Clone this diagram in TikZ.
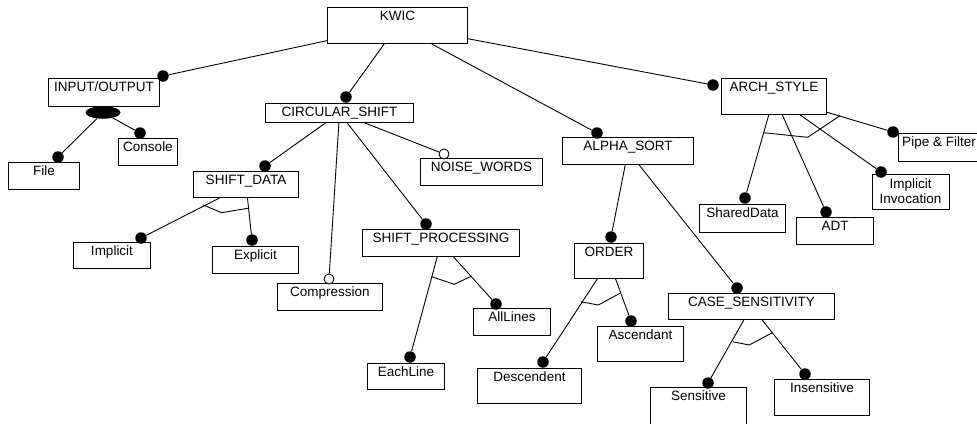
\documentclass[tikz,border=0pt]{standalone}
\usepackage{fontspec}
\setmainfont{Liberation Sans}
\usetikzlibrary{shapes.geometric}
\tikzset{
  fbox/.style={draw, line width=1pt, fill=white, inner sep=0pt, text height=13pt,
    font=\fontsize{13.5}{15}\selectfont},
  conn/.style={line width=0.9pt},
  fdot/.style={circle, fill=black, inner sep=0pt, minimum size=11.5pt},
  odot/.style={circle, draw, fill=white, line width=0.9pt, inner sep=0pt, minimum size=10pt},
  grp/.style={line width=0.9pt},
  oval/.style={ellipse, fill=black, minimum width=35pt, minimum height=12.5pt, inner sep=0pt}
}
\newcommand\fbx[6]{%
  \pgfmathsetmacro\myw{#4-#2}\pgfmathsetmacro\myh{#5-#3}\pgfmathsetmacro\myd{#5-#3-13}%
  \node[fbox, minimum width=\myw pt, minimum height=\myh pt, text depth=\myd pt, anchor=north west] (#1) at (#2,#3) {#6};}
\begin{document}
\begin{tikzpicture}[x=1pt, y=-1pt]
\useasboundingbox (0,0) rectangle (977,423);
\clip (0,0) rectangle (977,423);
\fill[white] (0,0) rectangle (977,423);
% boxes
\fbx{kwic}{327}{7}{467}{43}{KWIC}
\fbx{io}{48}{78}{159}{106}{INPUT/OUTPUT}
\fbx{console}{118}{138}{177}{165}{Console}
\fbx{file}{8}{162}{79}{189}{File}
\fbx{cshift}{265}{103}{413}{122}{CIRCULAR\_SHIFT}
\fbx{noise}{420}{158}{542}{185}{NOISE\_WORDS}
\fbx{sdata}{193}{171}{298}{197}{SHIFT\_DATA}
\fbx{impl}{73}{242}{150}{268}{Implicit}
\fbx{expl}{212}{246}{298}{273}{Explicit}
\fbx{compr}{277}{283}{382}{310}{Compression}
\fbx{sproc}{362}{229}{519}{256}{SHIFT\_PROCESSING}
\fbx{all}{473}{308}{550}{335}{AllLines}
\fbx{each}{367}{363}{444}{389}{EachLine}
\fbx{asort}{562}{137}{693}{164}{ALPHA\_SORT}
\fbx{order}{574}{243}{643}{278}{ORDER}
\fbx{case}{668}{293}{834}{319}{CASE\_SENSITIVITY}
\fbx{asc}{597}{326}{683}{361}{Ascendant}
\fbx{desc}{477}{368}{581}{403}{Descendent}
\fbx{sens}{650}{387}{746}{432}{Sensitive}
\fbx{insens}{774}{379}{869}{415}{Insensitive}
\fbx{arch}{721}{78}{826}{114}{ARCH\_STYLE}
\fbx{pipe}{898}{133}{979}{161}{Pipe \& Filter}
\fbx{shared}{699}{204}{785}{232}{SharedData}
\fbx{adt}{796}{217}{873}{244}{ADT}
\node[draw, line width=1pt, fill=white, inner sep=0pt, minimum width=77pt, minimum height=35pt,
  align=center, font=\fontsize{13.5}{15}\selectfont] (implinv) at (910.5,191.5) {Implicit\\Invocation};
% or-group oval
\node[oval] (ovl) at (103,112.5) {};
% dots
\node[fdot] (d-io) at (163,76) {};
\node[fdot] (d-cshift) at (346,97) {};
\node[fdot] (d-asort) at (597,133) {};
\node[fdot] (d-arch) at (713,85) {};
\node[fdot] (d-console) at (140,133) {};
\node[fdot] (d-file) at (58,157) {};
\node[odot] (d-noise) at (444,154) {};
\node[fdot] (d-sdata) at (265,166) {};
\node[odot] (d-compr) at (329,279) {};
\node[fdot] (d-sproc) at (426,224) {};
\node[fdot] (d-impl) at (141,238) {};
\node[fdot] (d-expl) at (252,240) {};
\node[fdot] (d-all) at (496,304) {};
\node[fdot] (d-each) at (410,357) {};
\node[fdot] (d-order) at (611,237) {};
\node[fdot] (d-case) at (737,288) {};
\node[fdot] (d-asc) at (631,321) {};
\node[fdot] (d-desc) at (543,362) {};
\node[fdot] (d-sens) at (708,383) {};
\node[fdot] (d-insens) at (805,374) {};
\node[fdot] (d-pipe) at (893,132) {};
\node[fdot] (d-implinv) at (881,172) {};
\node[fdot] (d-adt) at (826,212) {};
\node[fdot] (d-shared) at (745,198) {};
% connectors
\draw[conn] (kwic) -- (d-io);
\draw[conn] (kwic) -- (d-cshift);
\draw[conn] (kwic) -- (d-asort);
\draw[conn] (kwic) -- (d-arch);
\draw[conn] (ovl) -- (d-file);
\draw[conn] (ovl) -- (d-console);
\draw[conn] (cshift) -- (d-sdata);
\draw[conn] (cshift) -- (d-noise);
\draw[conn] (cshift) -- (d-compr);
\draw[conn] (cshift) -- (d-sproc);
\draw[conn] (sdata) -- (d-impl);
\draw[conn] (sdata) -- (d-expl);
\draw[conn] (sproc) -- (d-each);
\draw[conn] (sproc) -- (d-all);
\draw[conn] (asort) -- (d-order);
\draw[conn] (asort) -- (d-case);
\draw[conn] (order) -- (d-desc);
\draw[conn] (order) -- (d-asc);
\draw[conn] (case) -- (d-sens);
\draw[conn] (case) -- (d-insens);
\draw[conn] (arch) -- (d-shared);
\draw[conn] (arch) -- (d-adt);
\draw[conn] (arch) -- (d-implinv);
\draw[conn] (arch) -- (d-pipe);
% alternative-group marks
\draw[grp] (203.3,205) -- (221.7,212.7) -- (247.7,208.3);
\draw[grp] (431.7,276.7) -- (454.3,284.3) -- (471.7,276);
\draw[grp] (580.7,301.7) -- (598.3,305) -- (620,293.3);
\draw[grp] (732.7,341.7) -- (749.3,345) -- (772.3,332.7);
\draw[grp] (763.3,132.7) -- (807.7,137.3) -- (840,115.7);
\end{tikzpicture}
\end{document}
